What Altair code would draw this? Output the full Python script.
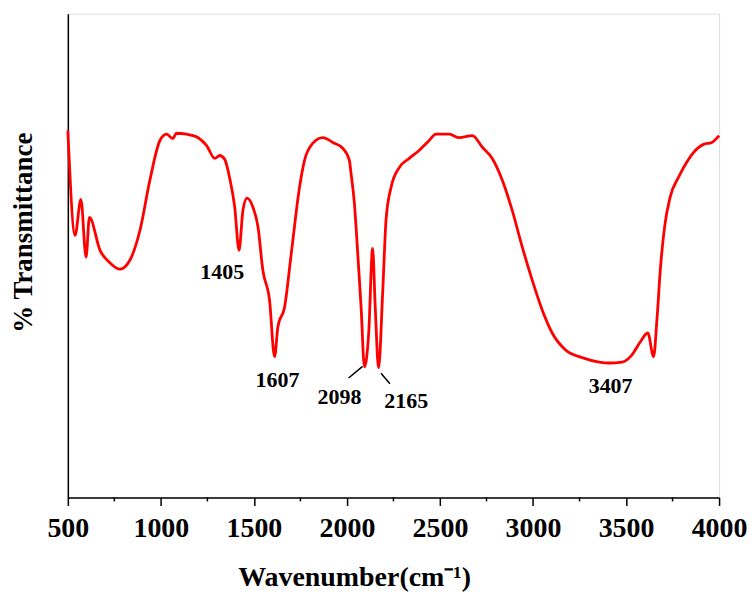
import altair as alt
import pandas as pd

wavenumber = [500, 539, 570, 598, 616, 673, 727, 780, 834, 888, 941, 995, 1031, 1064, 1084,
              1138, 1191, 1245, 1290, 1316, 1343, 1370, 1397, 1420, 1441, 1463, 1495, 1522,
              1548, 1584, 1611, 1629, 1665, 1701, 1745, 1772, 1816, 1870, 1924, 1977, 2013,
              2022, 2040, 2058, 2076, 2094, 2117, 2138, 2152, 2170, 2192, 2210, 2237, 2281,
              2335, 2389, 2442, 2478, 2550, 2603, 2674, 2728, 2781, 2835, 2888, 2942, 2996,
              3049, 3103, 3175, 3264, 3355, 3408, 3478, 3532, 3577, 3617, 3648, 3666, 3684,
              3707, 3737, 3782, 3826, 3862, 3916, 3961, 4000]
transmittance = [75.9, 54.2, 61.6, 49.7, 57.9, 51.1, 48.5, 47.2, 49.1, 55.3, 65.6, 73.8, 75.1,
                 74.2, 75.3, 75.1, 74.6, 72.8, 70.1, 70.7, 69.9, 66.0, 60.0, 51.1, 59.4, 61.9,
                 60.0, 55.9, 47.0, 40.8, 29.1, 35.3, 39.4, 50.5, 64.1, 69.7, 73.2, 74.4, 73.4,
                 72.2, 69.7, 67.0, 60.8, 50.5, 39.4, 27.0, 34.0, 51.5, 39.4, 26.8, 42.3, 57.3,
                 64.1, 68.2, 70.1, 71.8, 73.8, 75.1, 75.1, 74.4, 74.8, 72.4, 70.1, 65.6, 59.4,
                 51.8, 44.9, 38.8, 34.0, 30.5, 28.9, 28.0, 27.8, 28.0, 29.5, 32.2, 34.0, 29.1,
                 36.7, 47.0, 55.9, 62.1, 66.2, 69.3, 71.3, 73.0, 73.4, 74.8]

peak_labels = ["1405", "1607", "2098", "2165", "3407"]
label_x = [1330, 1627, 1960, 2319, 3417]
label_y = [46.6, 24.3, 20.8, 20.0, 23.1]

leader_x = [2009, 2183]
leader_y = [24.7, 25.7]
leader_x2 = [2084, 2231]
leader_y2 = [27.1, 23.5]

major_ticks = [500, 1000, 1500, 2000, 2500, 3000, 3500, 4000]
minor_ticks = [750, 1250, 1750, 2250, 2750, 3250, 3750]

spec = pd.DataFrame({"x": wavenumber, "y": transmittance})
labels = pd.DataFrame({"t": peak_labels, "x": label_x, "y": label_y})
leaders = pd.DataFrame({"x": leader_x, "y": leader_y, "x2": leader_x2, "y2": leader_y2})
minors = pd.DataFrame({"x": minor_ticks})

FONT = "Liberation Serif"

xscale = alt.Scale(domain=[500, 4000], nice=False, zero=False)
yscale = alt.Scale(domain=[0, 100], nice=False, zero=False)

xaxis = alt.Axis(
    title="Wavenumber(cm⁻¹)", values=major_ticks, grid=False, format="d",
    tickSize=8, tickColor="black", tickWidth=1.5,
    domainColor="black", domainWidth=1.5,
    labelFont=FONT, labelFontWeight="bold", labelFontSize=28, labelColor="black",
    labelPadding=9, labelFlush=False, labelOverlap=False,
    titleFont=FONT, titleFontWeight="bold", titleFontSize=28, titleColor="black",
    titleX=287, titleY=88, titleBaseline="alphabetic", titleAnchor="middle",
)
yaxis = alt.Axis(
    title="% Transmittance", labels=False, ticks=False, grid=False,
    domainColor="black", domainWidth=1.5,
    titleFont=FONT, titleFontWeight="bold", titleFontSize=27, titleColor="black",
    titleX=-44, titleY=219, titleBaseline="middle", titleAngle=270,
)

line = alt.Chart(spec).mark_line(color="#ff0000", strokeWidth=2.8, interpolate="monotone").encode(
    x=alt.X("x:Q", scale=xscale, axis=xaxis),
    y=alt.Y("y:Q", scale=yscale, axis=yaxis),
    order="x:Q",
)

text = alt.Chart(labels).mark_text(
    font=FONT, fontWeight="bold", fontSize=22, color="black", baseline="middle", align="center"
).encode(
    x=alt.X("x:Q", scale=xscale),
    y=alt.Y("y:Q", scale=yscale),
    text="t:N",
)

lead = alt.Chart(leaders).mark_rule(color="black", strokeWidth=1.5).encode(
    x=alt.X("x:Q", scale=xscale),
    y=alt.Y("y:Q", scale=yscale),
    x2="x2:Q",
    y2="y2:Q",
)

minor = alt.Chart(minors).mark_rule(color="black", strokeWidth=1.5, clip=False).encode(
    x=alt.X("x:Q", scale=xscale),
    y=alt.value(485),
    y2=alt.value(489),
)

chart = alt.layer(line, lead, text, minor).properties(
    width=653, height=485,
    autosize=alt.AutoSizeParams(type="none"),
    padding={"left": 60, "top": 5, "right": 28, "bottom": 96},
).configure_view(stroke="black", strokeWidth=1.5).configure(background="white")

chart.save("out.html", embed_options={"renderer": "svg", "actions": False})
